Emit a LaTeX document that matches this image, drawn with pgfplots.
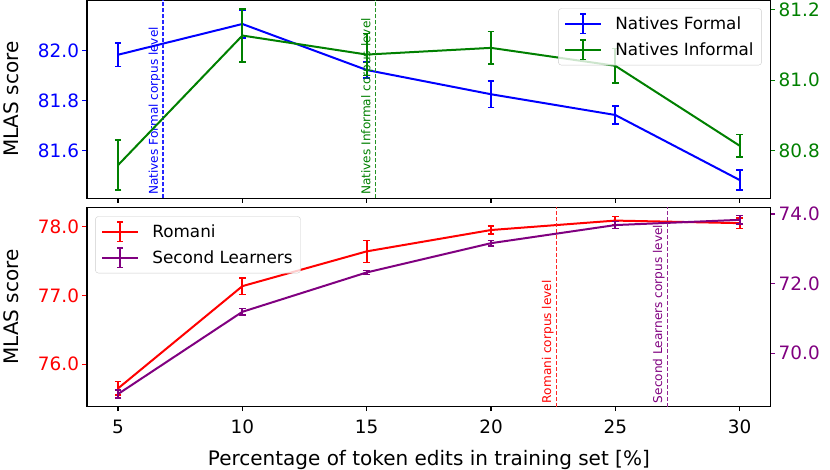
\documentclass[border=0pt]{standalone}
\usepackage{fontspec}
\setmainfont{DejaVu Sans}
\usepackage{pgfplots}
\pgfplotsset{compat=1.18}
\definecolor{mblue}{RGB}{0,0,255}
\definecolor{mgreen}{RGB}{0,128,0}
\definecolor{mred}{RGB}{255,0,0}
\definecolor{mpurple}{RGB}{128,0,128}

\pgfplotstableread{
x y e
5 81.984 0.047
10 82.107 0.055
15 81.923 0.033
20 81.826 0.053
25 81.743 0.035
30 81.483 0.040
}\formal
\pgfplotstableread{
x y e
5 80.759 0.071
10 81.127 0.076
15 81.073 0.060
20 81.092 0.046
25 81.041 0.049
30 80.814 0.032
}\informal
\pgfplotstableread{
x y e
5 75.65 0.10
10 77.135 0.12
15 77.64 0.16
20 77.95 0.06
25 78.087 0.06
30 78.05 0.077
}\romani
\pgfplotstableread{
x y e
5 68.83 0.12
10 71.19 0.10
15 72.32 0.06
20 73.16 0.08
25 73.68 0.10
30 73.83 0.12
}\second

\tikzset{
  vline/.style={line width=1.2pt, dash pattern=on 4pt off 2pt},
  vtext/.style={rotate=90, anchor=south west, inner sep=0pt, font=\fontsize{12.1}{14}\selectfont},
}
\pgfplotsset{
  base/.style={
    scale only axis, width=683.7pt,
    xmin=3.75, xmax=31.25, xtick={5,10,15,20,25,30},
    tick align=outside, major tick length=4.5pt,
    axis line style={line width=1.4pt},
    every tick/.style={line width=1.2pt},
    /pgf/number format/assume math mode=true,
    ticklabel style={font=\fontsize{18.4}{22}\selectfont},
    yticklabel style={/pgf/number format/fixed, /pgf/number format/fixed zerofill, /pgf/number format/precision=1},
    clip=false,
  },
  errplot/.style={line width=2pt, mark=none,
    /pgfplots/error bars/y dir=both, /pgfplots/error bars/y explicit,
    /pgfplots/error bars/error bar style={line width=1.9pt},
    /pgfplots/error bars/error mark options={rotate=90, mark size=3.3pt, line width=1.6pt}},
  leg/.style={legend cell align=left,
    legend style={font=\fontsize{16.8}{20}\selectfont, draw=black!20, rounded corners=3pt,
      fill=white, fill opacity=0.8, text opacity=1, draw opacity=1,
      inner xsep=6pt, inner ysep=4.5pt, row sep=5pt,
      /tikz/every odd column/.append style={column sep=11pt}},
    legend image code/.code={
      \draw[#1, line width=2pt, opacity=1] (0pt,0pt) -- (36pt,0pt);
      \draw[#1, line width=1.9pt, opacity=1] (18pt,-9.7pt) -- (18pt,9.7pt);
      \draw[#1, line width=1.6pt, opacity=1] (15pt,-9.7pt) -- (21pt,-9.7pt);
      \draw[#1, line width=1.6pt, opacity=1] (15pt,9.7pt) -- (21pt,9.7pt);
    }},
  ylab/.style={ylabel={MLAS score},
    every axis y label/.style={at={(axis description cs:-0.1104,0.5)}, rotate=90, anchor=center,
      font=\fontsize{20}{24}\selectfont}},
}

\begin{document}
\begin{tikzpicture}
\path[use as bounding box] (0pt,0pt) rectangle (830pt,469pt);

% ---------- top panel, left axis ----------
\begin{axis}[base, ylab, at={(87pt,270.5pt)}, anchor=south west, height=198.5pt,
  ymin=81.409, ymax=82.203, ytick={81.6,81.8,82.0},
  xticklabels={}, xtick pos=bottom, ytick pos=left,
  yticklabel style={text=mblue}, ytick style={draw=mblue},
]
\addplot[mblue, errplot] table[x=x, y=y, y error=e] {\formal};
\addplot[draw=mblue!85, vline] coordinates {(6.81,81.409) (6.81,82.203)};
\node[vtext, text=mblue] at ([xshift=-2.5pt, yshift=3.5pt]axis cs:6.81,81.409) {Natives Formal corpus level};
\end{axis}

% ---------- top panel, right axis ----------
\begin{axis}[base, leg, at={(87pt,270.5pt)}, anchor=south west, height=198.5pt,
  ymin=80.664, ymax=81.228, ytick={80.8,81.0,81.2},
  axis x line=none, axis y line*=right,
  yticklabel style={text=mgreen}, ytick style={draw=mgreen},
  legend style={at={(0.987,0.958)}, anchor=north east},
]
\addlegendimage{draw=mblue}
\addlegendentry{Natives Formal}
\addplot[mgreen, errplot] table[x=x, y=y, y error=e] {\informal};
\addlegendentry{Natives Informal}
\addplot[draw=mgreen!85, vline, forget plot] coordinates {(15.36,80.664) (15.36,81.228)};
\node[vtext, text=mgreen] at ([xshift=-2.5pt, yshift=3.5pt]axis cs:15.36,80.664) {Natives Informal corpus level};
\end{axis}

% ---------- bottom panel, left axis ----------
\begin{axis}[base, ylab, at={(87pt,62.3pt)}, anchor=south west, height=199.4pt,
  ymin=75.384, ymax=78.28, ytick={76,77,78},
  xtick pos=bottom, ytick pos=left,
  yticklabel style={text=mred}, ytick style={draw=mred},
  xticklabel style={/pgf/number format/fixed, /pgf/number format/precision=0, yshift=-5pt},
  xlabel={Percentage of token edits in training set [\%]},
  every axis x label/.style={at={(axis description cs:0.5,-0.266)}, anchor=center,
    font=\fontsize{20}{24}\selectfont},
]
\addplot[mred, errplot] table[x=x, y=y, y error=e] {\romani};
\addplot[draw=mred!85, vline] coordinates {(22.63,75.384) (22.63,78.28)};
\node[vtext, text=mred] at ([xshift=-2.5pt, yshift=3.5pt]axis cs:22.63,75.384) {Romani corpus level};
\end{axis}

% ---------- bottom panel, right axis ----------
\begin{axis}[base, leg, at={(87pt,62.3pt)}, anchor=south west, height=199.4pt,
  ymin=68.466, ymax=74.19, ytick={70,72,74},
  axis x line=none, axis y line*=right,
  yticklabel style={text=mpurple}, ytick style={draw=mpurple},
  legend style={at={(0.012,0.955)}, anchor=north west},
]
\addlegendimage{draw=mred}
\addlegendentry{Romani}
\addplot[mpurple, errplot] table[x=x, y=y, y error=e] {\second};
\addlegendentry{Second Learners}
\addplot[draw=mpurple!85, vline, forget plot] coordinates {(27.09,68.466) (27.09,74.19)};
\node[vtext, text=mpurple] at ([xshift=-2.5pt, yshift=3.5pt]axis cs:27.09,68.466) {Second Learners corpus level};
\end{axis}
\end{tikzpicture}
\end{document}
